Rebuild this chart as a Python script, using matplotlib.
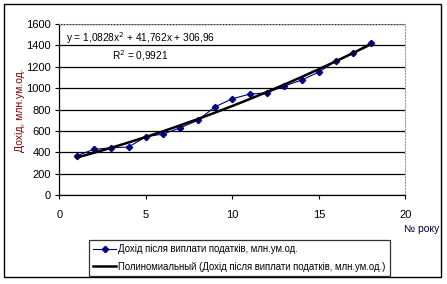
import matplotlib
matplotlib.use('agg')
import matplotlib.pyplot as plt
import numpy as np
from matplotlib.patches import Rectangle

plt.rcParams['font.family'] = ['Liberation Sans', 'DejaVu Sans']

years = [1, 2, 3, 4, 5, 6, 7, 8, 9, 10, 11, 12, 13, 14, 15, 16, 17, 18]
income = [367, 427, 442, 449, 545, 570, 629, 698, 825, 900, 944, 956,
          1019, 1075, 1150, 1255, 1330, 1423]
coef = [1.0828, 41.762, 306.96]
eq_text = 'y = 1,0828x$^2$ + 41,762x + 306,96'
r2_text = 'R$^2$ = 0,9921'

fig = plt.figure(figsize=(4.47, 2.84), dpi=100)
ax = fig.add_axes([59.3/447, 1-195/284, (405.3-59.3)/447, (195-24)/284])

fig.patches.append(Rectangle((4/447, 7/284), 437/447, 273/284, transform=fig.transFigure,
                             fill=False, ec='black', lw=1))

xt = np.array(years, dtype=float)
trend = np.polyval(coef, xt)
l1, = ax.plot(years, income, color='#000080', lw=0.8, marker='D', ms=3.2,
              mfc='#000080', mec='#000080', zorder=3)
l2, = ax.plot(xt, trend, color='black', lw=1.8, zorder=4)

ax.set_xlim(0, 20)
ax.set_ylim(0, 1600)
ax.set_xticks([0, 5, 10, 15, 20])
ax.set_yticks(range(0, 1601, 200))
ax.yaxis.grid(True, color='black', lw=0.9)
ax.set_axisbelow(True)
ax.tick_params(labelsize=8, length=3, width=0.8, direction='out', pad=3)
ax.tick_params(axis='x', pad=8)
for s in ['top', 'right']:
    ax.spines[s].set_color('#999999')
    ax.spines[s].set_linestyle(':')
    ax.spines[s].set_linewidth(0.8)
for s in ['left', 'bottom']:
    ax.spines[s].set_linewidth(0.9)

ax.text(0.4, 1470, eq_text, fontsize=7.3, va='center', ha='left')
ax.text(4.65, 1305, r2_text, fontsize=7.3, va='center', ha='center')

fig.text(20/447, 1-110/284, 'Дохід, млн.ум.од.', rotation=90, ha='center', va='center',
         fontsize=7.5, color='#800000')
fig.text(439/447, 1-229/284, '№ року', ha='right', va='center', fontsize=7.5, color='#000030')

leg = fig.legend([l1, l2], ['Дохід після виплати податків, млн.ум.од.',
                            'Полиномиальный (Дохід після виплати податків, млн.ум.од.)'],
                 loc='lower left', bbox_to_anchor=(89/447, 1-276/284), fontsize=6.9,
                 frameon=True, fancybox=False, edgecolor='black', handlelength=2.4,
                 handletextpad=0.2, borderpad=0.45, labelspacing=0.75, borderaxespad=0)
leg.get_frame().set_linewidth(0.9)

fig.savefig('out.png', dpi=100)
